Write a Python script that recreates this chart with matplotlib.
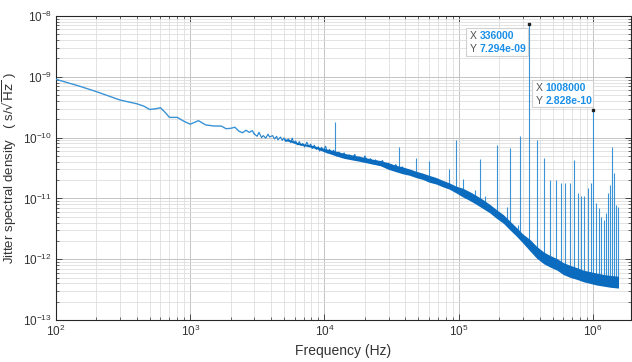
#!/usr/bin/env python3
"""Jitter spectral density plot (log-log)"""
import numpy as np
import matplotlib
matplotlib.use('Agg')
import matplotlib.pyplot as plt
from matplotlib.patches import Rectangle
from matplotlib.ticker import LogLocator, NullFormatter

plt.rcParams['font.family'] = ['Liberation Sans', 'DejaVu Sans']
plt.rcParams['mathtext.fontset'] = 'dejavusans'

W, H = 632, 362

# low-frequency part of the trace (thin line)
line_freq = [100, 150, 200, 300, 400, 450, 500, 560, 600, 650, 700, 800, 900, 1000,
             1150, 1300, 1500, 1700, 1850, 2000, 2150, 2300, 2450, 2600, 2750, 2900,
             3000]
line_psd = [9.1e-10, 7.0e-10, 5.7e-10, 4.15e-10, 3.6e-10, 3.3e-10, 2.9e-10, 3.0e-10,
            3.1e-10, 2.6e-10, 2.15e-10, 2.15e-10, 1.85e-10, 1.66e-10, 1.9e-10, 1.62e-10,
            1.55e-10, 1.55e-10, 1.40e-10, 1.42e-10, 1.48e-10, 1.28e-10, 1.20e-10, 1.32e-10,
            1.22e-10, 1.30e-10, 1.15e-10]

# ragged part of the trace between 3 kHz and 40 kHz
fuzz_freq = [3000, 3150, 3250, 3400, 3500, 3650, 3800, 3900, 4100, 4250, 4400, 4500,
             4700, 4850, 5000, 5150, 5400, 5600, 5750, 5900, 6100, 6300, 6500, 6700,
             6900, 7100, 7400, 7600, 7900, 8100, 8400, 8700, 9000, 9200, 9500, 9800,
             10200, 10500, 10900, 11300, 11700, 12300, 12800, 13400, 14000, 14600, 15300,
             16000, 16800, 17500, 18300, 19200, 20000, 21000, 22000, 23000, 24000, 25500,
             27000, 28500, 30000, 32000, 34000, 36000, 38000, 40000]
fuzz_psd = [1.15e-10, 1.05e-10, 1.22e-10, 1.0e-10, 1.08e-10, 0.98e-10, 1.14e-10, 1.02e-10,
            1.08e-10, 0.95e-10, 1.05e-10, 0.92e-10, 1.02e-10, 0.90e-10, 0.99e-10, 0.86e-10,
            0.95e-10, 0.83e-10, 0.98e-10, 0.82e-10, 0.88e-10, 0.76e-10, 0.86e-10, 0.74e-10,
            0.80e-10, 0.70e-10, 0.84e-10, 0.72e-10, 0.78e-10, 0.66e-10, 0.75e-10, 0.64e-10,
            0.71e-10, 0.60e-10, 0.69e-10, 0.62e-10, 0.72e-10, 0.56e-10, 0.64e-10, 0.55e-10,
            0.62e-10, 0.50e-10, 0.58e-10, 0.48e-10, 0.56e-10, 0.46e-10, 0.52e-10, 0.44e-10,
            0.53e-10, 0.42e-10, 0.48e-10, 0.40e-10, 0.50e-10, 0.39e-10, 0.45e-10, 0.37e-10,
            0.43e-10, 0.35e-10, 0.42e-10, 0.33e-10, 0.38e-10, 0.30e-10, 0.36e-10, 0.28e-10,
            0.33e-10, 0.27e-10]

# dense band (upper / lower envelope)
band_freq = [5000, 5600, 6300, 7000, 8000, 9000, 10000, 11000,
             12500, 14000, 16000, 18000, 20000, 23000, 26000, 30000, 34000, 38000, 43000,
             48000, 54000, 60000, 68000, 76000, 85000, 95000, 107000, 120000, 135000,
             150000, 170000, 190000, 215000, 240000, 270000, 300000, 340000, 380000,
             430000, 480000, 540000, 600000, 680000, 760000, 850000, 950000, 1070000,
             1200000, 1350000, 1550000]
band_upper = [9.6e-11, 9.1e-11, 8.3e-11, 7.9e-11, 7.5e-11, 7.0e-11, 6.6e-11, 6.3e-11,
              5.9e-11, 5.5e-11, 5.2e-11, 4.95e-11, 4.7e-11, 4.4e-11, 4.2e-11, 3.85e-11,
              3.5e-11, 3.3e-11, 3.05e-11, 2.8e-11, 2.6e-11, 2.4e-11, 2.2e-11, 1.98e-11,
              1.8e-11, 1.6e-11, 1.47e-11, 1.3e-11, 1.12e-11, 9.7e-12, 8.0e-12, 6.6e-12,
              5.4e-12, 4.25e-12, 3.3e-12, 2.6e-12, 2.1e-12, 1.63e-12, 1.31e-12, 1.15e-12,
              1.02e-12, 8.8e-13, 7.9e-13, 7.25e-13, 6.6e-13, 6.25e-13, 5.9e-13, 5.6e-13,
              5.4e-13, 5.25e-13]
band_lower = [9.0e-11, 8.5e-11, 7.7e-11, 7.4e-11, 6.9e-11, 6.4e-11, 5.8e-11, 5.4e-11,
              4.9e-11, 4.55e-11, 4.3e-11, 4.1e-11, 3.9e-11, 3.65e-11, 3.45e-11, 3.0e-11,
              2.75e-11, 2.55e-11, 2.4e-11, 2.2e-11, 2.05e-11, 1.85e-11, 1.72e-11, 1.55e-11,
              1.42e-11, 1.24e-11, 1.06e-11, 9.3e-12, 8.0e-12, 6.9e-12, 5.8e-12, 4.75e-12,
              3.9e-12, 3.05e-12, 2.37e-12, 1.85e-12, 1.36e-12, 1.04e-12, 8.4e-13, 7.4e-13,
              6.6e-13, 5.6e-13, 5.0e-13, 4.65e-13, 4.25e-13, 4.0e-13, 3.75e-13, 3.6e-13,
              3.45e-13, 3.35e-13]

# spurs: frequency, foot (band level) and peak
spur_freq = [12000, 36000, 48000, 60000, 84000, 96000, 108000, 132000, 144000, 156000,
             192000, 228000, 240000, 276000, 288000, 336000, 384000, 432000, 480000,
             528000, 576000, 624000, 672000, 720000, 768000, 816000, 864000, 912000,
             960000, 1008000, 1056000, 1104000, 1152000, 1200000, 1248000, 1296000,
             1344000, 1392000, 1440000, 1488000, 1536000]
spur_base = [5.5e-11, 3.0e-11, 2.5e-11, 2.1e-11, 1.6e-11, 1.4e-11, 1.25e-11, 1.0e-11,
             8.8e-12, 7.8e-12, 5.6e-12, 4.2e-12, 3.6e-12, 2.7e-12, 2.5e-12, 1.75e-12,
             1.3e-12, 1.05e-12, 9.2e-13, 8.4e-13, 7.5e-13, 6.8e-13, 6.4e-13, 6.0e-13,
             5.7e-13, 5.5e-13, 5.3e-13, 5.1e-13, 5.0e-13, 4.9e-13, 4.7e-13, 4.6e-13,
             4.5e-13, 4.5e-13, 4.4e-13, 4.4e-13, 4.3e-13, 4.3e-13, 4.3e-13, 4.2e-13,
             4.2e-13]
spur_peak = [1.82e-10, 7.1e-11, 4.6e-11, 4.1e-11, 3.0e-11, 9.1e-11, 2.1e-11, 1.4e-11,
             4.4e-11, 1.1e-11, 7.6e-11, 7.3e-12, 6.7e-11, 3.6e-12, 1.07e-10, 7.294e-9,
             9.1e-11, 4.6e-11, 2.0e-11, 2.0e-11, 1.8e-11, 1.8e-11, 1.8e-11, 4.3e-11,
             1.25e-11, 1.1e-11, 1.1e-11, 1.48e-11, 1.77e-11, 2.828e-10, 8.3e-12, 6.9e-12,
             5.0e-12, 4.4e-12, 5.7e-12, 1.23e-11, 1.65e-11, 7.1e-11, 2.6e-11, 7.8e-12,
             7.2e-12]

# data tips
tip_x = [336000, 1008000]
tip_y = [7.294e-9, 2.828e-10]
tip_label = ["336000", "1008000"]
tip_value = ["7.294e-09", "2.828e-10"]

BLUE = '#0b6cbf'
THIN = '#3a93d6'
AXC = '#333333'
TIPBLUE = '#1a8fe8'

fig = plt.figure(figsize=(W / 100, H / 100), dpi=100)
ax = fig.add_axes([56 / W, 1 - 320 / H, 575 / W, 304 / H])

ax.vlines(spur_freq, spur_base, spur_peak, color=THIN, lw=0.8, zorder=2)
ax.plot(line_freq, line_psd, color=THIN, lw=1.0, zorder=3)
ax.plot(fuzz_freq, fuzz_psd, color='#1f7fcc', lw=0.8, zorder=3)
ax.fill_between(band_freq, band_lower, band_upper, color=BLUE, lw=0, zorder=3)

ax.set_xscale('log')
ax.set_yscale('log')
ax.set_xlim(100, 1.92e6)
ax.set_ylim(1e-13, 1e-8)

ax.xaxis.set_major_locator(LogLocator(base=10, numticks=10))
ax.xaxis.set_minor_locator(LogLocator(base=10, subs=np.arange(2, 10), numticks=20))
ax.yaxis.set_major_locator(LogLocator(base=10, numticks=10))
ax.yaxis.set_minor_locator(LogLocator(base=10, subs=np.arange(2, 10), numticks=20))
ax.xaxis.set_minor_formatter(NullFormatter())
ax.yaxis.set_minor_formatter(NullFormatter())

ax.grid(True, which='major', color='#c4c4c4', lw=0.7)
ax.grid(True, which='minor', color='#dedede', lw=0.6)
ax.set_axisbelow(True)

ax.tick_params(which='both', direction='in', top=True, right=True, colors=AXC,
               labelsize=8.5)
ax.tick_params(which='major', length=4, width=0.6, pad=3)
ax.tick_params(which='minor', length=2, width=0.5)
for s in ax.spines.values():
    s.set_color('#262626')
    s.set_linewidth(0.8)

ax.set_xlabel('Frequency (Hz)', fontsize=10, color=AXC, labelpad=3)
ax.set_ylabel(r'Jitter spectral density   ( s/$\sqrt{\mathsf{Hz}}$ )', fontsize=9.5,
              color=AXC)
ax.yaxis.set_label_coords(-0.064, 0.5)

# data tips (MATLAB style), box offsets in pixels relative to the tip point
tip_box = [(-63, -1, -32, -4), (-61, 0, 3, 30)]   # left, right, bottom, top
fig.canvas.draw()
for x, y, lab, val, (l, r, b, t) in zip(tip_x, tip_y, tip_label, tip_value, tip_box):
    ax.plot([x], [y], marker='s', ms=1.8, color='#202020', zorder=5, clip_on=False)
    px, py = ax.transData.transform((x, y))
    rect = Rectangle(((px + l) / W, (py + b) / H), (r - l) / W, (t - b) / H,
                     transform=fig.transFigure, fc='white', ec='#cfcfcf', lw=0.8,
                     alpha=0.95, zorder=6)
    fig.patches.append(rect)
    for i, (key, txt) in enumerate([('X', lab), ('Y', val)]):
        ty = py + t - 7.5 - i * 13
        fig.text((px + l + 3) / W, ty / H, key, fontsize=7.5, color='#505050',
                 va='center', ha='left', zorder=7)
        fig.text((px + l + 13) / W, ty / H, txt, fontsize=7.5, color=TIPBLUE,
                 fontweight='bold', va='center', ha='left', zorder=7)

fig.savefig('out.png', dpi=100)
